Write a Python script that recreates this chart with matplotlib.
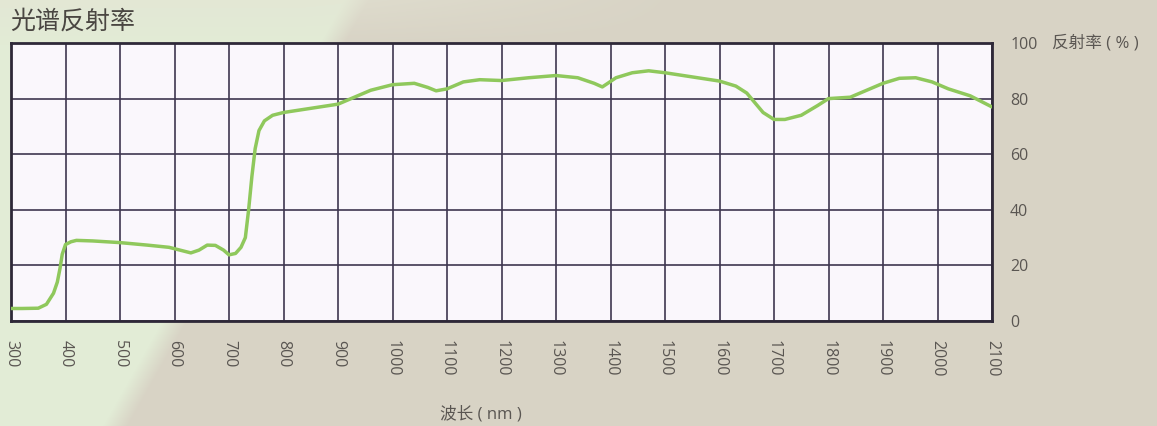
import numpy as np
import matplotlib
matplotlib.use("Agg")
import matplotlib.pyplot as plt

plt.rcParams['font.family'] = ['Open Sans', 'Noto Sans CJK SC', 'DejaVu Sans']

# ---- data ----
wavelength_nm = [300, 320, 350, 365, 378, 385, 390, 394, 400, 410, 420, 450, 500, 550,
                 590, 610, 630, 645, 660, 675, 690, 700, 712, 722, 730, 736, 742, 748,
                 755, 765, 780, 800, 850, 900, 930, 960, 1000, 1040, 1065, 1080, 1100,
                 1130, 1160, 1200, 1250, 1300, 1340, 1370, 1385, 1395, 1410, 1440, 1470,
                 1500, 1550, 1600, 1630, 1650, 1665, 1680, 1700, 1720, 1750, 1780, 1800,
                 1840, 1870, 1900, 1930, 1960, 1990, 2020, 2060, 2100]
reflectance_pct = [4.5, 4.5, 4.6, 6, 10, 14, 19, 24, 27.5, 28.5, 29, 28.8, 28.2, 27.3,
                   26.5, 25.5, 24.5, 25.5, 27.3, 27.2, 25.5, 23.8, 24.3, 26.5, 30, 40, 52, 62,
                   68.5, 72, 74, 75, 76.5, 78, 80.5, 83, 85, 85.5, 84, 82.8, 83.5,
                   86, 86.8, 86.5, 87.5, 88.3, 87.5, 85.5, 84.2, 85.5, 87.5, 89.3, 90,
                   89.3, 87.8, 86.3, 84.5, 82, 78.5, 75, 72.5, 72.5, 74, 77.5, 80,
                   80.5, 83, 85.5, 87.3, 87.5, 86, 83.5, 81, 77]
x_ticks = list(range(300, 2101, 100))
y_ticks = [0, 20, 40, 60, 80, 100]

title = "光谱反射率"
x_label = "波长 ( nm )"
y_label = "反射率 ( % )"

W, H = 1157, 426
fig = plt.figure(figsize=(W / 100, H / 100), dpi=100)

# ---- background (paper texture approximation) ----
bg_ax = fig.add_axes([0, 0, 1, 1], zorder=-10)
yy, xx = np.mgrid[0:H, 0:W]
beige = np.array([216, 211, 197]) / 255.0
green = np.array([226, 236, 214]) / 255.0
pale = np.array([228, 228, 212]) / 255.0
bound = 356 - 0.566 * yy  # diagonal boundary of the light area
t = np.clip((bound - xx) / 25.0 + 0.5, 0, 1)[..., None]
img = beige * (1 - t) + green * t
# pale top band
tb = np.clip((45 - yy) / 45.0, 0, 1)[..., None] * np.clip((700 - xx) / 400.0, 0, 1)[..., None]
img = img * (1 - 0.6 * tb) + pale * 0.6 * tb
img = np.clip(img, 0, 1)
bg_ax.imshow(img, extent=[0, W, H, 0], aspect='auto')
bg_ax.axis('off')

# ---- main plot ----
left, right, top, bottom = 11, 992, 43, 321
ax = fig.add_axes([left / W, 1 - bottom / H, (right - left) / W, (bottom - top) / H])
ax.set_facecolor('#faf7fc')
ax.plot(wavelength_nm, reflectance_pct, color='#8fc85c', lw=2.5, solid_capstyle='round',
        zorder=3)
ax.set_xlim(300, 2100)
ax.set_ylim(0, 100)
ax.set_xticks(x_ticks)
ax.set_yticks(y_ticks)
ax.grid(True, color='#3e3650', lw=1.2, zorder=1)
for s in ax.spines.values():
    s.set_color('#2e2838')
    s.set_linewidth(2.0)

ax.yaxis.tick_right()
ax.tick_params(axis='y', length=0, pad=13, labelsize=11.5, labelcolor='#5a5652')
ax.tick_params(axis='x', length=0, pad=14, labelsize=11.5, labelcolor='#5a5652',
               labelrotation=270)
for lab in ax.get_xticklabels():
    lab.set_verticalalignment('top')
    lab.set_horizontalalignment('center')

fig.text(10 / W, 1 - 22 / H, title, fontsize=18, color='#4a4642', ha='left', va='center',
         family=['Noto Sans CJK SC', 'DejaVu Sans'])
fig.text(1052 / W, 1 - 43 / H, y_label, fontsize=12, color='#5a5652', ha='left', va='center')
fig.text(481 / W, 1 - 414 / H, x_label, fontsize=12, color='#5a5652', ha='center', va='center')

fig.savefig("out.png", dpi=100)
